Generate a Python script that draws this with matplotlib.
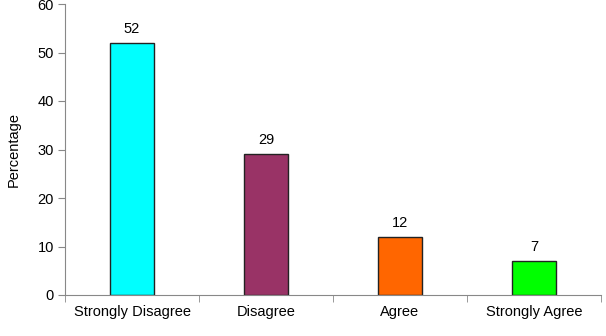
import matplotlib.pyplot as plt

plt.rcParams['font.family'] = ['Liberation Sans', 'DejaVu Sans']

categorias = ["Strongly Disagree", "Disagree", "Agree", "Strongly Agree"]
porcentajes = [52, 29, 12, 7]
colores = ["#00FFFF", "#993366", "#FF6600", "#00FF00"]
yticks = [0, 10, 20, 30, 40, 50, 60]

fig = plt.figure(figsize=(6.06, 3.36), dpi=100)
ax = fig.add_axes([65 / 606, 41 / 336, 536 / 606, 291 / 336])

x = list(range(len(categorias)))
barras = ax.bar(x, porcentajes, width=0.335, color=colores, edgecolor="#222222", linewidth=1)

for b, v in zip(barras, porcentajes):
    ax.annotate(str(v), (b.get_x() + b.get_width() / 2, v), xytext=(0, 5),
                textcoords="offset points", ha="center", va="bottom", fontsize=10.5)

ax.set_xlim(-0.5, len(categorias) - 0.5)
ax.set_ylim(0, 60)
ax.set_yticks(yticks)
ax.set_xticks(x)
ax.set_xticklabels(categorias, fontsize=10.5)
ax.set_xticks([i - 0.5 for i in range(len(categorias) + 1)], minor=True)
ax.tick_params(axis="x", which="major", length=0, pad=7)
ax.tick_params(axis="x", which="minor", length=5, color="#888888", direction="out")
ax.tick_params(axis="y", length=5, color="#888888", labelsize=10.5, pad=3)
ax.set_ylabel("Percentage", fontsize=10.5, labelpad=12)

for s in ["top", "right"]:
    ax.spines[s].set_visible(False)
for s in ["left", "bottom"]:
    ax.spines[s].set_color("#888888")

fig.savefig("out.png", dpi=100)
